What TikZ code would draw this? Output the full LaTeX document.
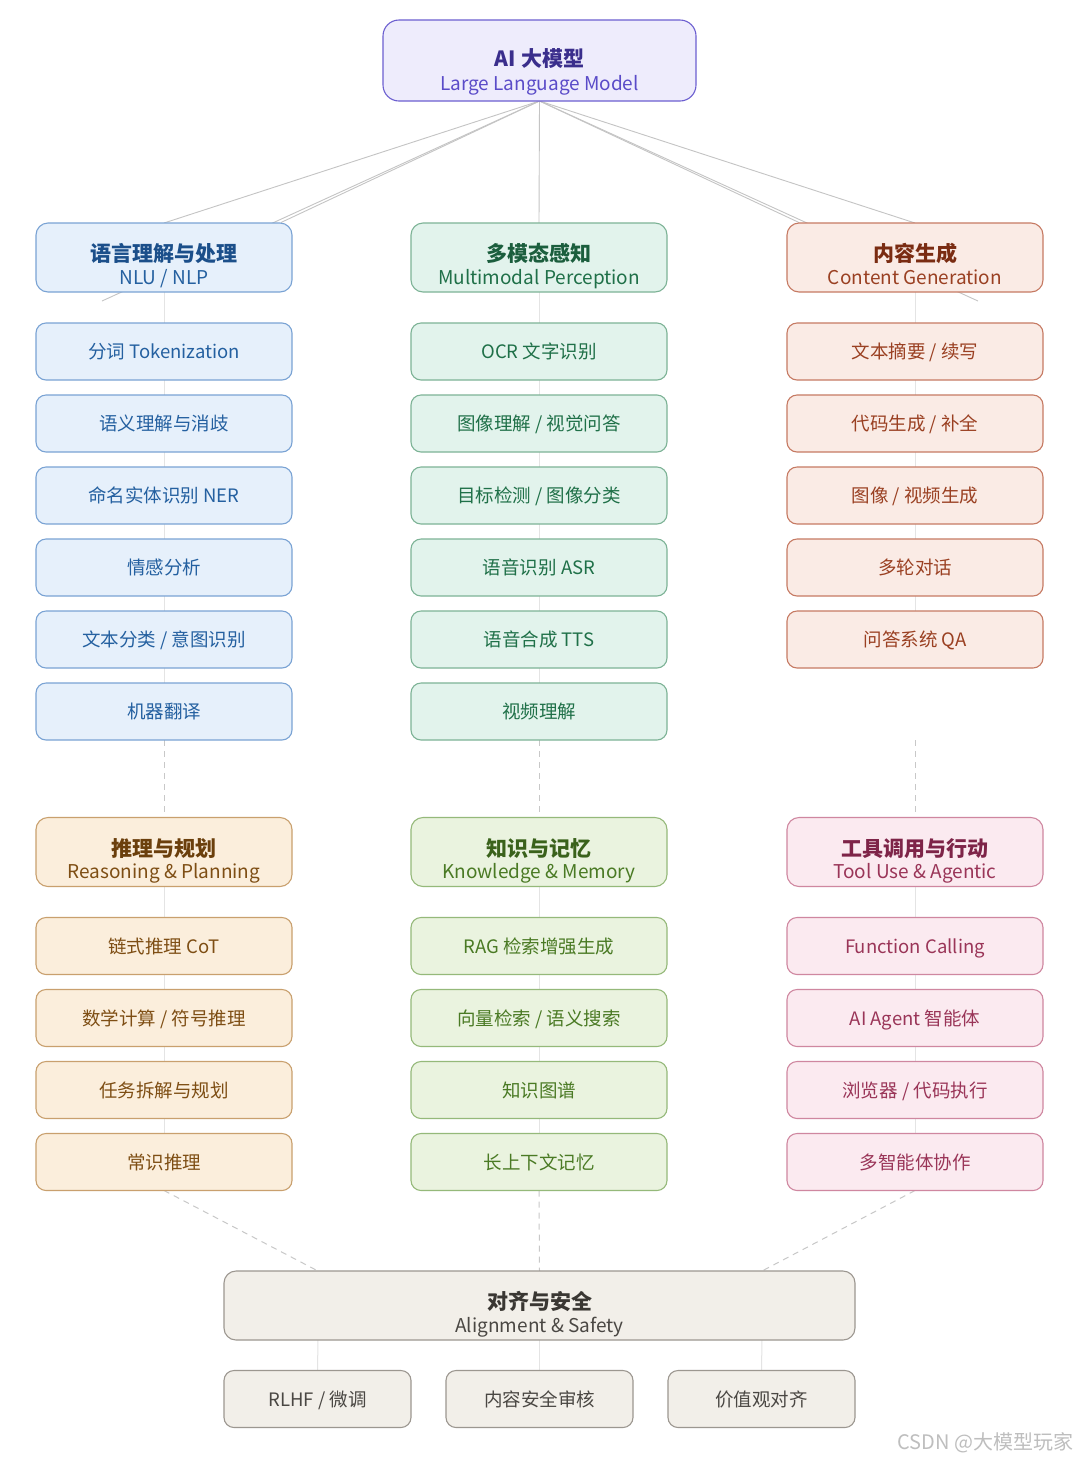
\documentclass[tikz,border=0pt]{standalone}
\usepackage{fontspec}
\setmainfont{Noto Sans CJK SC}
\definecolor{rootfill}{HTML}{EEECFC}\definecolor{rootdraw}{HTML}{6C5FD0}
\definecolor{rootttl}{HTML}{3A2E8C}\definecolor{roottxt}{HTML}{5A4BC8}
\definecolor{bluefill}{HTML}{E6F0FB}\definecolor{bluedraw}{HTML}{7AA3D4}
\definecolor{bluettl}{HTML}{1B4F8A}\definecolor{bluetxt}{HTML}{2460A0}
\definecolor{greenfill}{HTML}{E2F3EC}\definecolor{greendraw}{HTML}{7DB396}
\definecolor{greenttl}{HTML}{1B5E3D}\definecolor{greentxt}{HTML}{1F7048}
\definecolor{coralfill}{HTML}{FAEBE5}\definecolor{coraldraw}{HTML}{C67A63}
\definecolor{coralttl}{HTML}{7A2C12}\definecolor{coraltxt}{HTML}{9A4022}
\definecolor{orangefill}{HTML}{FBEEDC}\definecolor{orangedraw}{HTML}{C9A06E}
\definecolor{orangettl}{HTML}{6B3F0C}\definecolor{orangetxt}{HTML}{7E4E14}
\definecolor{limefill}{HTML}{EAF3DF}\definecolor{limedraw}{HTML}{95B97A}
\definecolor{limettl}{HTML}{3A621B}\definecolor{limetxt}{HTML}{4A7A24}
\definecolor{pinkfill}{HTML}{FBEAF0}\definecolor{pinkdraw}{HTML}{CF87A0}
\definecolor{pinkttl}{HTML}{7E2448}\definecolor{pinktxt}{HTML}{9A3558}
\definecolor{grayfill}{HTML}{F2EFE9}\definecolor{graydraw}{HTML}{9C9790}
\definecolor{grayttl}{HTML}{3A3733}\definecolor{graytxt}{HTML}{4A4743}
\definecolor{rootline}{HTML}{C4C4C4}\definecolor{colline}{HTML}{E4E4E4}
\definecolor{dashline}{HTML}{C8C8C8}\definecolor{wmark}{HTML}{BEBEBE}
\pgfdeclarelayer{bg}\pgfsetlayers{bg,main}
\tikzset{
  box/.style={draw, rounded corners=10pt, line width=1.1pt, inner sep=0pt, outer sep=0pt},
  throot/.style={fill=rootfill, draw=rootdraw},
  thblue/.style={fill=bluefill, draw=bluedraw},
  thgreen/.style={fill=greenfill, draw=greendraw},
  thcoral/.style={fill=coralfill, draw=coraldraw},
  thorange/.style={fill=orangefill, draw=orangedraw},
  thlime/.style={fill=limefill, draw=limedraw},
  thpink/.style={fill=pinkfill, draw=pinkdraw},
  thgray/.style={fill=grayfill, draw=graydraw},
  kidtxt/.style={anchor=base, inner sep=0pt, font=\fontsize{18.5}{20}\selectfont},
  ttltxt/.style={anchor=base, inner sep=0pt, font=\bfseries\fontsize{21}{24}\selectfont},
  subtxt/.style={anchor=base, inner sep=0pt, font=\fontsize{19}{21}\selectfont},
  rootcon/.style={draw=rootline, line width=0.9pt},
  colcon/.style={draw=colline, line width=1pt},
  dashcon/.style={draw=dashline, line width=1pt, dash pattern=on 6pt off 5pt},
}
% name, cx, cy, width, theme, text
\newcommand\kidbox[6]{%
  \node[box, th#5, minimum width=#4, minimum height=57] (#1) at (#2,#3) {};
  \node[kidtxt, text=#5txt] (#1t) at (#2,#3+7) {#6};}
% name, cx, cy, width, theme, title, subtitle
\newcommand\hdrbox[7]{%
  \node[box, th#5, rounded corners=12pt, minimum width=#4, minimum height=69] (#1) at (#2,#3) {};
  \node[ttltxt, text=#5ttl] (#1t) at (#2,#3+4) {#6};
  \node[subtxt, text=#5txt] (#1s) at (#2,#3+26.5) {#7};}
\begin{document}
\begin{tikzpicture}[x=1pt,y=-1pt]
\useasboundingbox (0,0) rectangle (1080,1460);
\begin{pgfonlayer}{bg}
  \fill[white] (0,0) rectangle (1080,1460);
\end{pgfonlayer}

% root
\node[box, throot, rounded corners=16pt, minimum width=313, minimum height=81] (root) at (539.5,60.5) {};
\node[ttltxt, text=rootttl] (roott) at (539.5,66.5) {AI 大模型};
\node[subtxt, text=roottxt] (roots) at (539.5,90) {Large Language Model};

% headers tier 1
\hdrbox{h1}{164}{257.5}{256}{blue}{语言理解与处理}{NLU / NLP}
\hdrbox{h2}{539}{257.5}{256}{green}{多模态感知}{Multimodal Perception}
\hdrbox{h3}{915}{257.5}{256}{coral}{内容生成}{Content Generation}

% children tier 1
\kidbox{a1}{164}{351.5}{256}{blue}{分词 Tokenization}
\kidbox{a2}{164}{423.5}{256}{blue}{语义理解与消歧}
\kidbox{a3}{164}{495.5}{256}{blue}{命名实体识别 NER}
\kidbox{a4}{164}{567.5}{256}{blue}{情感分析}
\kidbox{a5}{164}{639.5}{256}{blue}{文本分类 / 意图识别}
\kidbox{a6}{164}{711.5}{256}{blue}{机器翻译}

\kidbox{b1}{539}{351.5}{256}{green}{OCR 文字识别}
\kidbox{b2}{539}{423.5}{256}{green}{图像理解 / 视觉问答}
\kidbox{b3}{539}{495.5}{256}{green}{目标检测 / 图像分类}
\kidbox{b4}{539}{567.5}{256}{green}{语音识别 ASR}
\kidbox{b5}{539}{639.5}{256}{green}{语音合成 TTS}
\kidbox{b6}{539}{711.5}{256}{green}{视频理解}

\kidbox{c1}{915}{351.5}{256}{coral}{文本摘要 / 续写}
\kidbox{c2}{915}{423.5}{256}{coral}{代码生成 / 补全}
\kidbox{c3}{915}{495.5}{256}{coral}{图像 / 视频生成}
\kidbox{c4}{915}{567.5}{256}{coral}{多轮对话}
\kidbox{c5}{915}{639.5}{256}{coral}{问答系统 QA}
\coordinate (c6) at (915,740);

% headers tier 2
\hdrbox{h4}{164}{852}{256}{orange}{推理与规划}{Reasoning \& Planning}
\hdrbox{h5}{539}{852}{256}{lime}{知识与记忆}{Knowledge \& Memory}
\hdrbox{h6}{915}{852}{256}{pink}{工具调用与行动}{Tool Use \& Agentic}

% children tier 2
\kidbox{d1}{164}{946}{256}{orange}{链式推理 CoT}
\kidbox{d2}{164}{1018}{256}{orange}{数学计算 / 符号推理}
\kidbox{d3}{164}{1090}{256}{orange}{任务拆解与规划}
\kidbox{d4}{164}{1162}{256}{orange}{常识推理}

\kidbox{e1}{539}{946}{256}{lime}{RAG 检索增强生成}
\kidbox{e2}{539}{1018}{256}{lime}{向量检索 / 语义搜索}
\kidbox{e3}{539}{1090}{256}{lime}{知识图谱}
\kidbox{e4}{539}{1162}{256}{lime}{长上下文记忆}

\kidbox{f1}{915}{946}{256}{pink}{Function Calling}
\kidbox{f2}{915}{1018}{256}{pink}{AI Agent 智能体}
\kidbox{f3}{915}{1090}{256}{pink}{浏览器 / 代码执行}
\kidbox{f4}{915}{1162}{256}{pink}{多智能体协作}

% alignment
\hdrbox{al}{539.5}{1305.5}{631}{gray}{对齐与安全}{Alignment \& Safety}
\kidbox{g1}{317.5}{1399}{187}{gray}{RLHF / 微调}
\kidbox{g2}{539.5}{1399}{187}{gray}{内容安全审核}
\kidbox{g3}{761.5}{1399}{187}{gray}{价值观对齐}

% watermark
\node[inner sep=0pt, text=wmark, font=\fontsize{20}{22}\selectfont] (wm) at (985.5,1443) {CSDN @大模型玩家};

% free ends of connectors
\coordinate (lx) at (102,301);
\coordinate (ly) at (281,222.5);
\coordinate (rx) at (978,301);
\coordinate (ry) at (799,222.5);
\coordinate (alL) at (318,1271);
\coordinate (alR) at (762,1271);
\coordinate (alLb) at (318,1340);
\coordinate (alRb) at (762,1340);

\begin{pgfonlayer}{bg}
  \draw[rootcon] (root.south) -- (h1.north);
  \draw[rootcon] (root.south) -- (lx);
  \draw[rootcon] (root.south) -- (ly);
  \draw[rootcon] (root.south) -- (h2.north);
  \draw[rootcon] (root.south) -- (h3.north);
  \draw[rootcon] (root.south) -- (rx);
  \draw[rootcon] (root.south) -- (ry);
  \draw[colcon] (h1.south) -- (a1.north);
  \draw[colcon] (h2.south) -- (b1.north);
  \draw[colcon] (h3.south) -- (c1.north);
  \foreach \c in {a,b}{
    \foreach \i/\j in {1/2,2/3,3/4,4/5,5/6}{
      \draw[colcon] (\c\i.south) -- (\c\j.north);
    }
  }
  \foreach \i/\j in {1/2,2/3,3/4,4/5}{
    \draw[colcon] (c\i.south) -- (c\j.north);
  }
  \draw[dashcon] (a6.south) -- (h4.north);
  \draw[dashcon] (b6.south) -- (h5.north);
  \draw[dashcon] (c6) -- (h6.north);
  \draw[colcon] (h4.south) -- (d1.north);
  \draw[colcon] (h5.south) -- (e1.north);
  \draw[colcon] (h6.south) -- (f1.north);
  \foreach \c in {d,e,f}{
    \foreach \i/\j in {1/2,2/3,3/4}{
      \draw[colcon] (\c\i.south) -- (\c\j.north);
    }
  }
  \draw[dashcon] (d4.south) -- (alL);
  \draw[dashcon] (e4.south) -- (al.north);
  \draw[dashcon] (f4.south) -- (alR);
  \draw[colcon] (alLb) -- (g1.north);
  \draw[colcon] (al.south) -- (g2.north);
  \draw[colcon] (alRb) -- (g3.north);
\end{pgfonlayer}
\end{tikzpicture}
\end{document}
